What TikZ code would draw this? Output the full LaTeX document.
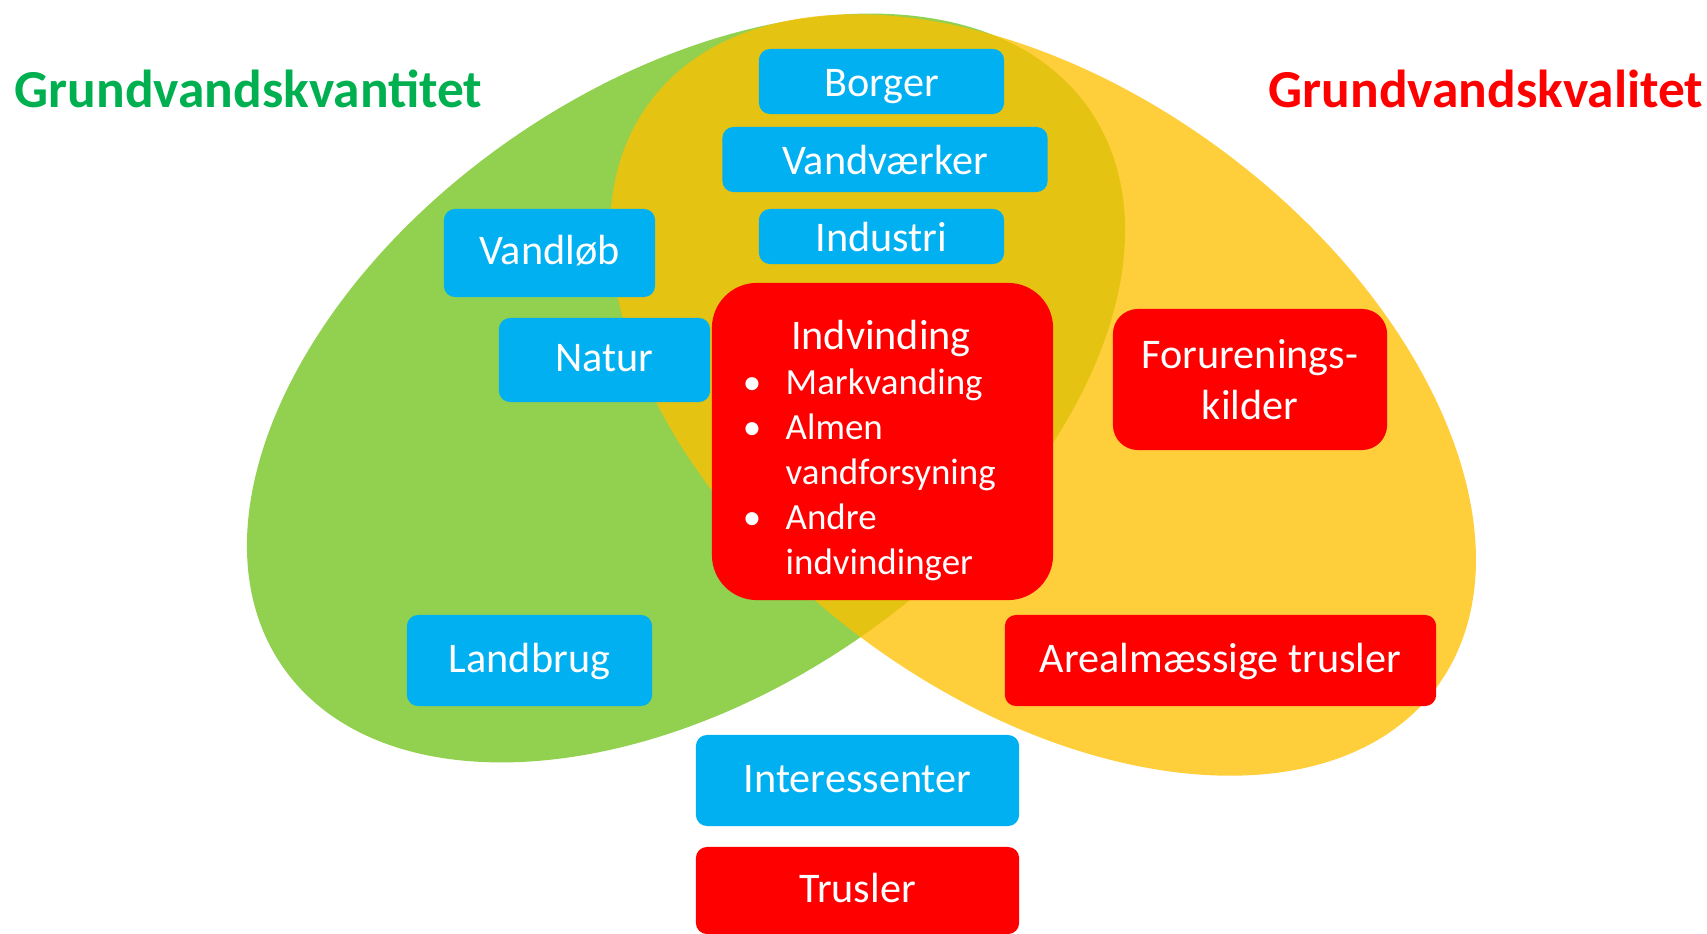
\documentclass[tikz,border=0pt]{standalone}
\usepackage{fontspec}
\setmainfont{Carlito}
\definecolor{ppgreen}{HTML}{92D050}
\definecolor{ppyellow}{HTML}{FFC000}
\definecolor{ppblue}{HTML}{00B0F0}
\definecolor{ppred}{HTML}{FF0000}
\definecolor{titlegreen}{HTML}{00B050}
\begin{document}
\begin{tikzpicture}[x=0.01cm,y=-0.01cm,
  box/.style={rounded corners=0.11cm, inner sep=0pt, text=white,
    font=\fontsize{12}{14.6}\selectfont, text height=8.9pt, text depth=2.35pt},
  topbox/.style={text height=9.9pt, text depth=1.6pt},
  bluebox/.style={box, fill=ppblue},
  redbox/.style={box, fill=ppred},
  listtxt/.style={inner sep=0pt, text=white, font=\fontsize{10.5}{12.8}\selectfont},
  titletxt/.style={inner sep=0pt, font=\bfseries\fontsize{15.2}{18}\selectfont}]
\useasboundingbox (0,0) rectangle (1707,934);
% ellipses
\fill[ppgreen, rotate around={34.6:(686,388)}] (686,388) ellipse [x radius=4.90cm, y radius=3.04cm];
\fill[ppyellow, fill opacity=0.77, rotate around={-36.7:(1043,395)}] (1043,395) ellipse [x radius=4.90cm, y radius=3.03cm];
% titles
\node[titletxt, text=titlegreen, anchor=base west] (tquant) at (14,108) {Grundvandskvantitet};
\node[titletxt, text=ppred, anchor=base east] (tqual) at (1704,108) {Grundvandskvalitet};
% blue boxes
\node[bluebox, topbox, minimum width=2.45cm, minimum height=0.65cm] (borger) at (881.5,81.5) {Borger};
\node[bluebox, topbox, minimum width=3.25cm, minimum height=0.65cm] (vandv) at (885,159.5) {Vandværker};
\node[bluebox, topbox, minimum width=2.45cm, minimum height=0.55cm] (industri) at (881.5,236.5) {Industri};
\node[bluebox, minimum width=2.11cm, minimum height=0.88cm] (vandlob) at (549.5,253) {Vandløb};
\node[bluebox, minimum width=2.11cm, minimum height=0.84cm] (natur) at (604.5,360) {Natur};
\node[bluebox, minimum width=2.45cm, minimum height=0.91cm] (landbrug) at (529.5,660.5) {Landbrug};
\node[bluebox, minimum width=3.23cm, minimum height=0.91cm] (interes) at (857.5,780.5) {Interessenter};
% red boxes
\node[redbox, minimum width=3.23cm, minimum height=0.87cm] (trusler) at (857.5,890.5) {Trusler};
\node[redbox, minimum width=4.31cm, minimum height=0.91cm] (areal) at (1220.5,660.5) {Arealmæssige trusler};
\node[redbox, rounded corners=0.25cm, minimum width=2.74cm, minimum height=1.41cm, align=center, text height={}, text depth={}] (forur) at (1250,379.5) {Forurenings-\\kilder};
\node[redbox, rounded corners=0.45cm, minimum width=3.41cm, minimum height=3.17cm] (indv) at (882.5,441.5) {};
% Indvinding contents
\node[inner sep=0pt, text=white, font=\fontsize{12}{14.6}\selectfont, anchor=base] (indvtitle) at (881,349.5) {Indvinding};
\node[listtxt, anchor=base] (b1) at (752,394.5) {•};
\node[listtxt, anchor=base west] (l1) at (785,394.5) {Markvanding};
\node[listtxt, anchor=base] (b2) at (752,439.5) {•};
\node[listtxt, anchor=base west] (l2) at (785,439.5) {Almen};
\node[listtxt, anchor=base west] (l2b) at (785,484.5) {vandforsyning};
\node[listtxt, anchor=base] (b3) at (752,529.5) {•};
\node[listtxt, anchor=base west] (l3) at (785,529.5) {Andre};
\node[listtxt, anchor=base west] (l3b) at (785,574.5) {indvindinger};
\end{tikzpicture}
\end{document}
